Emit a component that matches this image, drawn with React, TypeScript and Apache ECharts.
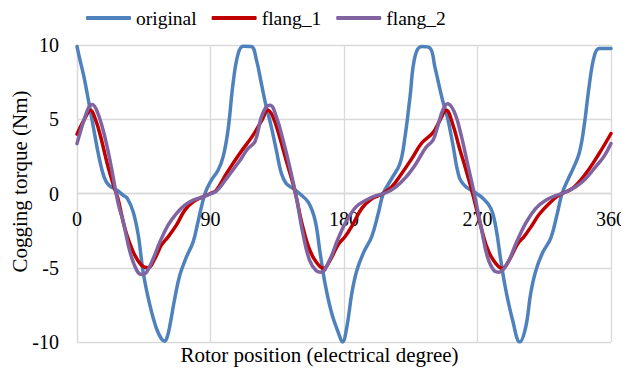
import React, { useEffect, useRef } from "react";
import * as echarts from "echarts";

const seriesNames = ["original", "flang_1", "flang_2"];
const seriesColors = ["#4F81BD", "#C00000", "#8064A2"];

const xMin = 0;
const xMax = 360;
const xStep = 90;
const yMin = -10;
const yMax = 10;
const yStep = 5;

// [rotor position (deg), cogging torque (Nm)]
const originalData = [
  [0, 9.9], [2, 9.0], [4.7, 7.85], [8.1, 6.06], [11.4, 4.26], [14.8, 2.47], [18.2, 1.12],
  [21.5, 0.56], [27, 0.22], [31, -0.11], [34, -0.34], [37.9, -1.24], [41.3, -2.8],
  [44.6, -5.3], [49.1, -7.5], [53.6, -9.1], [57, -9.8], [59.2, -9.95], [61, -9.6],
  [62.6, -8.9], [65.9, -7.07], [69.3, -5.5], [73.8, -4.27], [78.3, -3.26], [81.6, -1.9],
  [86.3, 0], [90.6, 0.9], [95.1, 1.57], [98.5, 2.47], [101.8, 4.26], [105.2, 7.4],
  [108.6, 9.4], [112, 9.92], [117.5, 9.9], [121, 8.98], [124.3, 7.4], [127.6, 5.83],
  [131, 4.49], [134.4, 2.9], [137.8, 1.34], [141.1, 0.67], [145.6, 0.34], [150, 0],
  [156, -0.6], [160.5, -1.8], [163.9, -4.0], [167.3, -6.1], [171.8, -8.1], [176.3, -9.4],
  [179, -10], [181.9, -9.0], [185.3, -6.7], [188.6, -5.2], [193.1, -4.0], [198.7, -2.9],
  [203.2, -1.3], [206.5, 0], [212.1, 1.0], [217.7, 2.0], [221.1, 3.8], [224.5, 6.5],
  [227.8, 9.2], [232.3, 9.9], [237.9, 9.8], [241.3, 8.5], [246.4, 6.3], [249.8, 5.1],
  [253.2, 3.4], [257.7, 1.1], [262.2, 0.45], [267.8, 0.1], [273.4, -0.3], [279, -1.0],
  [282.4, -2.3], [285.7, -4.5], [289.1, -6.5], [293.6, -8.5], [298.5, -10], [302.5, -9],
  [305.9, -6.7], [309.3, -5.2], [313.8, -4.0], [319.4, -3.0], [323.9, -1.3], [327, 0],
  [331.7, 1.1], [334, 1.57], [338.5, 2.69], [341.8, 4.49], [345.2, 7.18], [348.6, 9.2],
  [352, 9.76], [360, 9.76],
];

const flang1Data = [
  [0, 4.0], [4.7, 4.94], [9.2, 5.6], [12.6, 4.94], [16, 3.8], [20.4, 2.0], [24.9, 0.45],
  [27.5, -0.3], [32.3, -2.36], [37.9, -3.93], [43.5, -4.83], [48, -5.0], [52.5, -4.38],
  [56.9, -3.48], [61.4, -2.92], [67, -2.13], [72.7, -1.12], [78.3, -0.56], [85, -0.22],
  [90, 0], [93.9, 0.22], [100.7, 1.34], [109.7, 2.69], [118.7, 3.93], [124.7, 4.94],
  [128.7, 5.6], [132.1, 5.16], [136.6, 3.8], [141.1, 2.2], [145.6, 0.67], [147.8, -0.23],
  [151.6, -2.0], [156.1, -3.6], [160.5, -4.5], [166.2, -5.05], [170.6, -4.5],
  [176.3, -3.4], [180.8, -2.9], [185.3, -2.2], [192, -1.0], [198.7, -0.35], [205.5, -0.05],
  [212.2, 0.45], [218.9, 1.35], [225.7, 2.35], [232.4, 3.4], [240, 4.1], [244.5, 4.9],
  [249, 5.6], [253.2, 4.7], [257.7, 3.1], [262.2, 1.6], [266.7, 0], [271.2, -1.8],
  [275.6, -3.4], [280.1, -4.4], [286.8, -5.05], [291.3, -4.5], [297, -3.4], [301.4, -2.9],
  [307, -2.1], [311.6, -1.4], [318.3, -0.67], [325, -0.11], [334, 0.34], [343, 1.34],
  [352, 2.69], [360, 4.04],
];

const flang2Data = [
  [0, 3.36], [4.7, 4.94], [8.1, 5.83], [10.3, 6.0], [13.7, 5.5], [18.2, 4.04], [22.7, 2.0],
  [26, 0.22], [28.3, -0.9], [31.2, -1.9], [35.7, -3.93], [40.2, -5.16], [43.5, -5.45],
  [46.9, -5.3], [51.4, -4.38], [55.9, -3.26], [61.4, -2.13], [67, -1.35], [72.7, -0.79],
  [78.3, -0.45], [85, -0.22], [90, -0.02], [93.9, 0.15], [100.7, 1.0], [109.7, 2.2],
  [115, 3.0], [120, 3.5], [124.3, 5.16], [127.6, 5.83], [130.3, 5.95], [134.4, 5.16],
  [138.9, 3.6], [143.4, 1.79], [147.8, -0.23], [152.3, -2.7], [156.8, -4.5], [161.3, -5.2],
  [164.6, -5.3], [170.2, -4.5], [175.8, -3.1], [181.4, -1.9], [188.1, -0.9], [194.8, -0.45],
  [201.6, -0.15], [208.3, 0.05], [215, 0.45], [221.8, 1.1], [228.5, 2.0], [235.2, 3.1],
  [240, 3.6], [243.1, 4.5], [246.5, 5.6], [249.8, 6.05], [254.3, 5.5], [258.8, 4.0],
  [263.3, 2.0], [267.8, 0], [272.3, -2.2], [276.8, -4.3], [281.2, -5.2], [284.6, -5.3],
  [290.2, -4.7], [295.8, -3.4], [302.5, -2.0], [309.3, -1.0], [316, -0.45], [322.7, -0.15],
  [329.5, 0.1], [336.2, 0.45], [342.9, 1.0], [349.6, 1.8], [355.3, 2.5], [360, 3.36],
];

const yAxisTitle = "Cogging torque (Nm)";
const xAxisTitle = "Rotor position (electrical degree)";

const FONT = "Liberation Serif";

const GRID_TOP = 45;
const GRID_BOTTOM = 26;
const CHART_H = 368;

export default function App() {
  const ref = useRef<HTMLDivElement>(null);

  useEffect(() => {
    if (!ref.current) return;
    const chart = echarts.init(ref.current, undefined, { renderer: "svg" });
    const datasets = [originalData, flang1Data, flang2Data];
    const gridH = CHART_H - GRID_TOP - GRID_BOTTOM;
    // shift the x axis up so that it lies on y = 0
    const zeroOffset = -(gridH * (0 - yMin)) / (yMax - yMin);
    chart.setOption({
      animation: false,
      textStyle: { fontFamily: FONT },
      legend: {
        left: 86,
        top: 8,
        padding: 0,
        itemWidth: 45,
        itemHeight: 4,
        itemGap: 15,
        icon: "roundRect",
        textStyle: { fontFamily: FONT, fontSize: 19.5, color: "#000" },
        data: seriesNames,
      },
      grid: { left: 77, right: 17, top: GRID_TOP, bottom: GRID_BOTTOM, containLabel: false },
      xAxis: {
        type: "value",
        min: xMin,
        max: xMax,
        interval: xStep,
        offset: zeroOffset,
        axisLine: { show: true, onZero: false, lineStyle: { color: "#D9D9D9", width: 1.3 } },
        axisTick: { show: false },
        axisLabel: { fontFamily: FONT, fontSize: 20, color: "#000", margin: 15 },
        splitLine: { show: true, lineStyle: { color: "#D9D9D9", width: 1.3 } },
      },
      yAxis: {
        type: "value",
        min: yMin,
        max: yMax,
        interval: yStep,
        axisLine: { show: true, onZero: false, lineStyle: { color: "#D9D9D9", width: 1.3 } },
        axisTick: { show: false },
        axisLabel: { fontFamily: FONT, fontSize: 20, color: "#000", margin: 18 },
        splitLine: { show: true, lineStyle: { color: "#D9D9D9", width: 1.3 } },
      },
      graphic: [
        {
          type: "text",
          x: 19.5,
          y: 181.5,
          rotation: Math.PI / 2,
          style: {
            text: yAxisTitle,
            fontFamily: FONT,
            fontSize: 21,
            fill: "#000",
            align: "center",
            verticalAlign: "middle",
          },
        },
        {
          type: "text",
          x: 319.5,
          y: 355,
          style: {
            text: xAxisTitle,
            fontFamily: FONT,
            fontSize: 21,
            fill: "#000",
            align: "center",
            verticalAlign: "middle",
          },
        },
      ],
      series: seriesNames.map((name, i) => ({
        name,
        type: "line",
        data: datasets[i],
        smooth: 0.4,
        showSymbol: false,
        symbol: "none",
        color: seriesColors[i],
        lineStyle: { width: 3.5, color: seriesColors[i], cap: "round", join: "round" },
        z: 2 + i,
      })),
    });
    return () => chart.dispose();
  }, []);

  return <div ref={ref} style={{ width: 629, height: 368, marginLeft: -8, marginTop: -8 }} />;
}
